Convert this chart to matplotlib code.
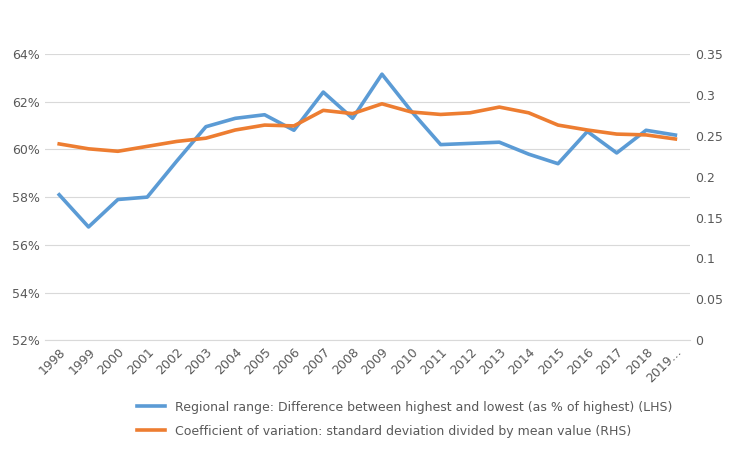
import matplotlib.pyplot as plt
from matplotlib.ticker import FuncFormatter

years = [str(y) for y in range(1998, 2019)] + ["2019..."]
regional_range = [58.1, 56.75, 57.9, 58.0, 59.5, 60.95, 61.3, 61.45, 60.8, 62.4, 61.3,
                  63.15, 61.6, 60.2, 60.25, 60.3, 59.8, 59.4, 60.75, 59.85, 60.8, 60.6]
coef_variation = [0.240, 0.234, 0.231, 0.237, 0.243, 0.247, 0.257, 0.263, 0.262, 0.281, 0.277,
                  0.289, 0.279, 0.276, 0.278, 0.285, 0.278, 0.263, 0.257, 0.252, 0.251, 0.246]

blue = "#5B9BD5"
orange = "#ED7D31"
tick_color = "#595959"

fig, ax1 = plt.subplots(figsize=(7.42, 4.49), dpi=100)
fig.subplots_adjust(left=0.06, right=0.93, top=0.88, bottom=0.242)

x = range(len(years))
l1, = ax1.plot(x, regional_range, color=blue, lw=2.6,
               label="Regional range: Difference between highest and lowest (as % of highest) (LHS)")
ax1.set_ylim(52, 64)
ax1.set_yticks(range(52, 65, 2))
ax1.yaxis.set_major_formatter(FuncFormatter(lambda v, p: f"{v:.0f}%"))
ax1.grid(axis="y", color="#D9D9D9", lw=0.8)
ax1.set_axisbelow(True)
ax1.set_xticks(list(x))
ax1.set_xticklabels(years, rotation=45, ha="right", rotation_mode="anchor")
ax1.set_xlim(-0.5, len(years) - 0.5)

ax2 = ax1.twinx()
l2, = ax2.plot(x, coef_variation, color=orange, lw=2.6,
               label="Coefficient of variation: standard deviation divided by mean value (RHS)")
ax2.set_ylim(0, 0.35)
ax2.set_yticks([0, 0.05, 0.1, 0.15, 0.2, 0.25, 0.3, 0.35])
ax2.set_yticklabels(["0", "0.05", "0.1", "0.15", "0.2", "0.25", "0.3", "0.35"])

for ax in (ax1, ax2):
    for s in ax.spines.values():
        s.set_visible(False)
    ax.tick_params(length=0, labelsize=9, colors=tick_color)
ax1.spines["bottom"].set_visible(True)
ax1.spines["bottom"].set_color("#D9D9D9")

fig.legend(handles=[l1, l2], loc="lower left", bbox_to_anchor=(0.17, 0.0),
           frameon=False, fontsize=9, labelcolor=tick_color, handlelength=2.2,
           labelspacing=0.9)

fig.savefig("out.png", dpi=100)
